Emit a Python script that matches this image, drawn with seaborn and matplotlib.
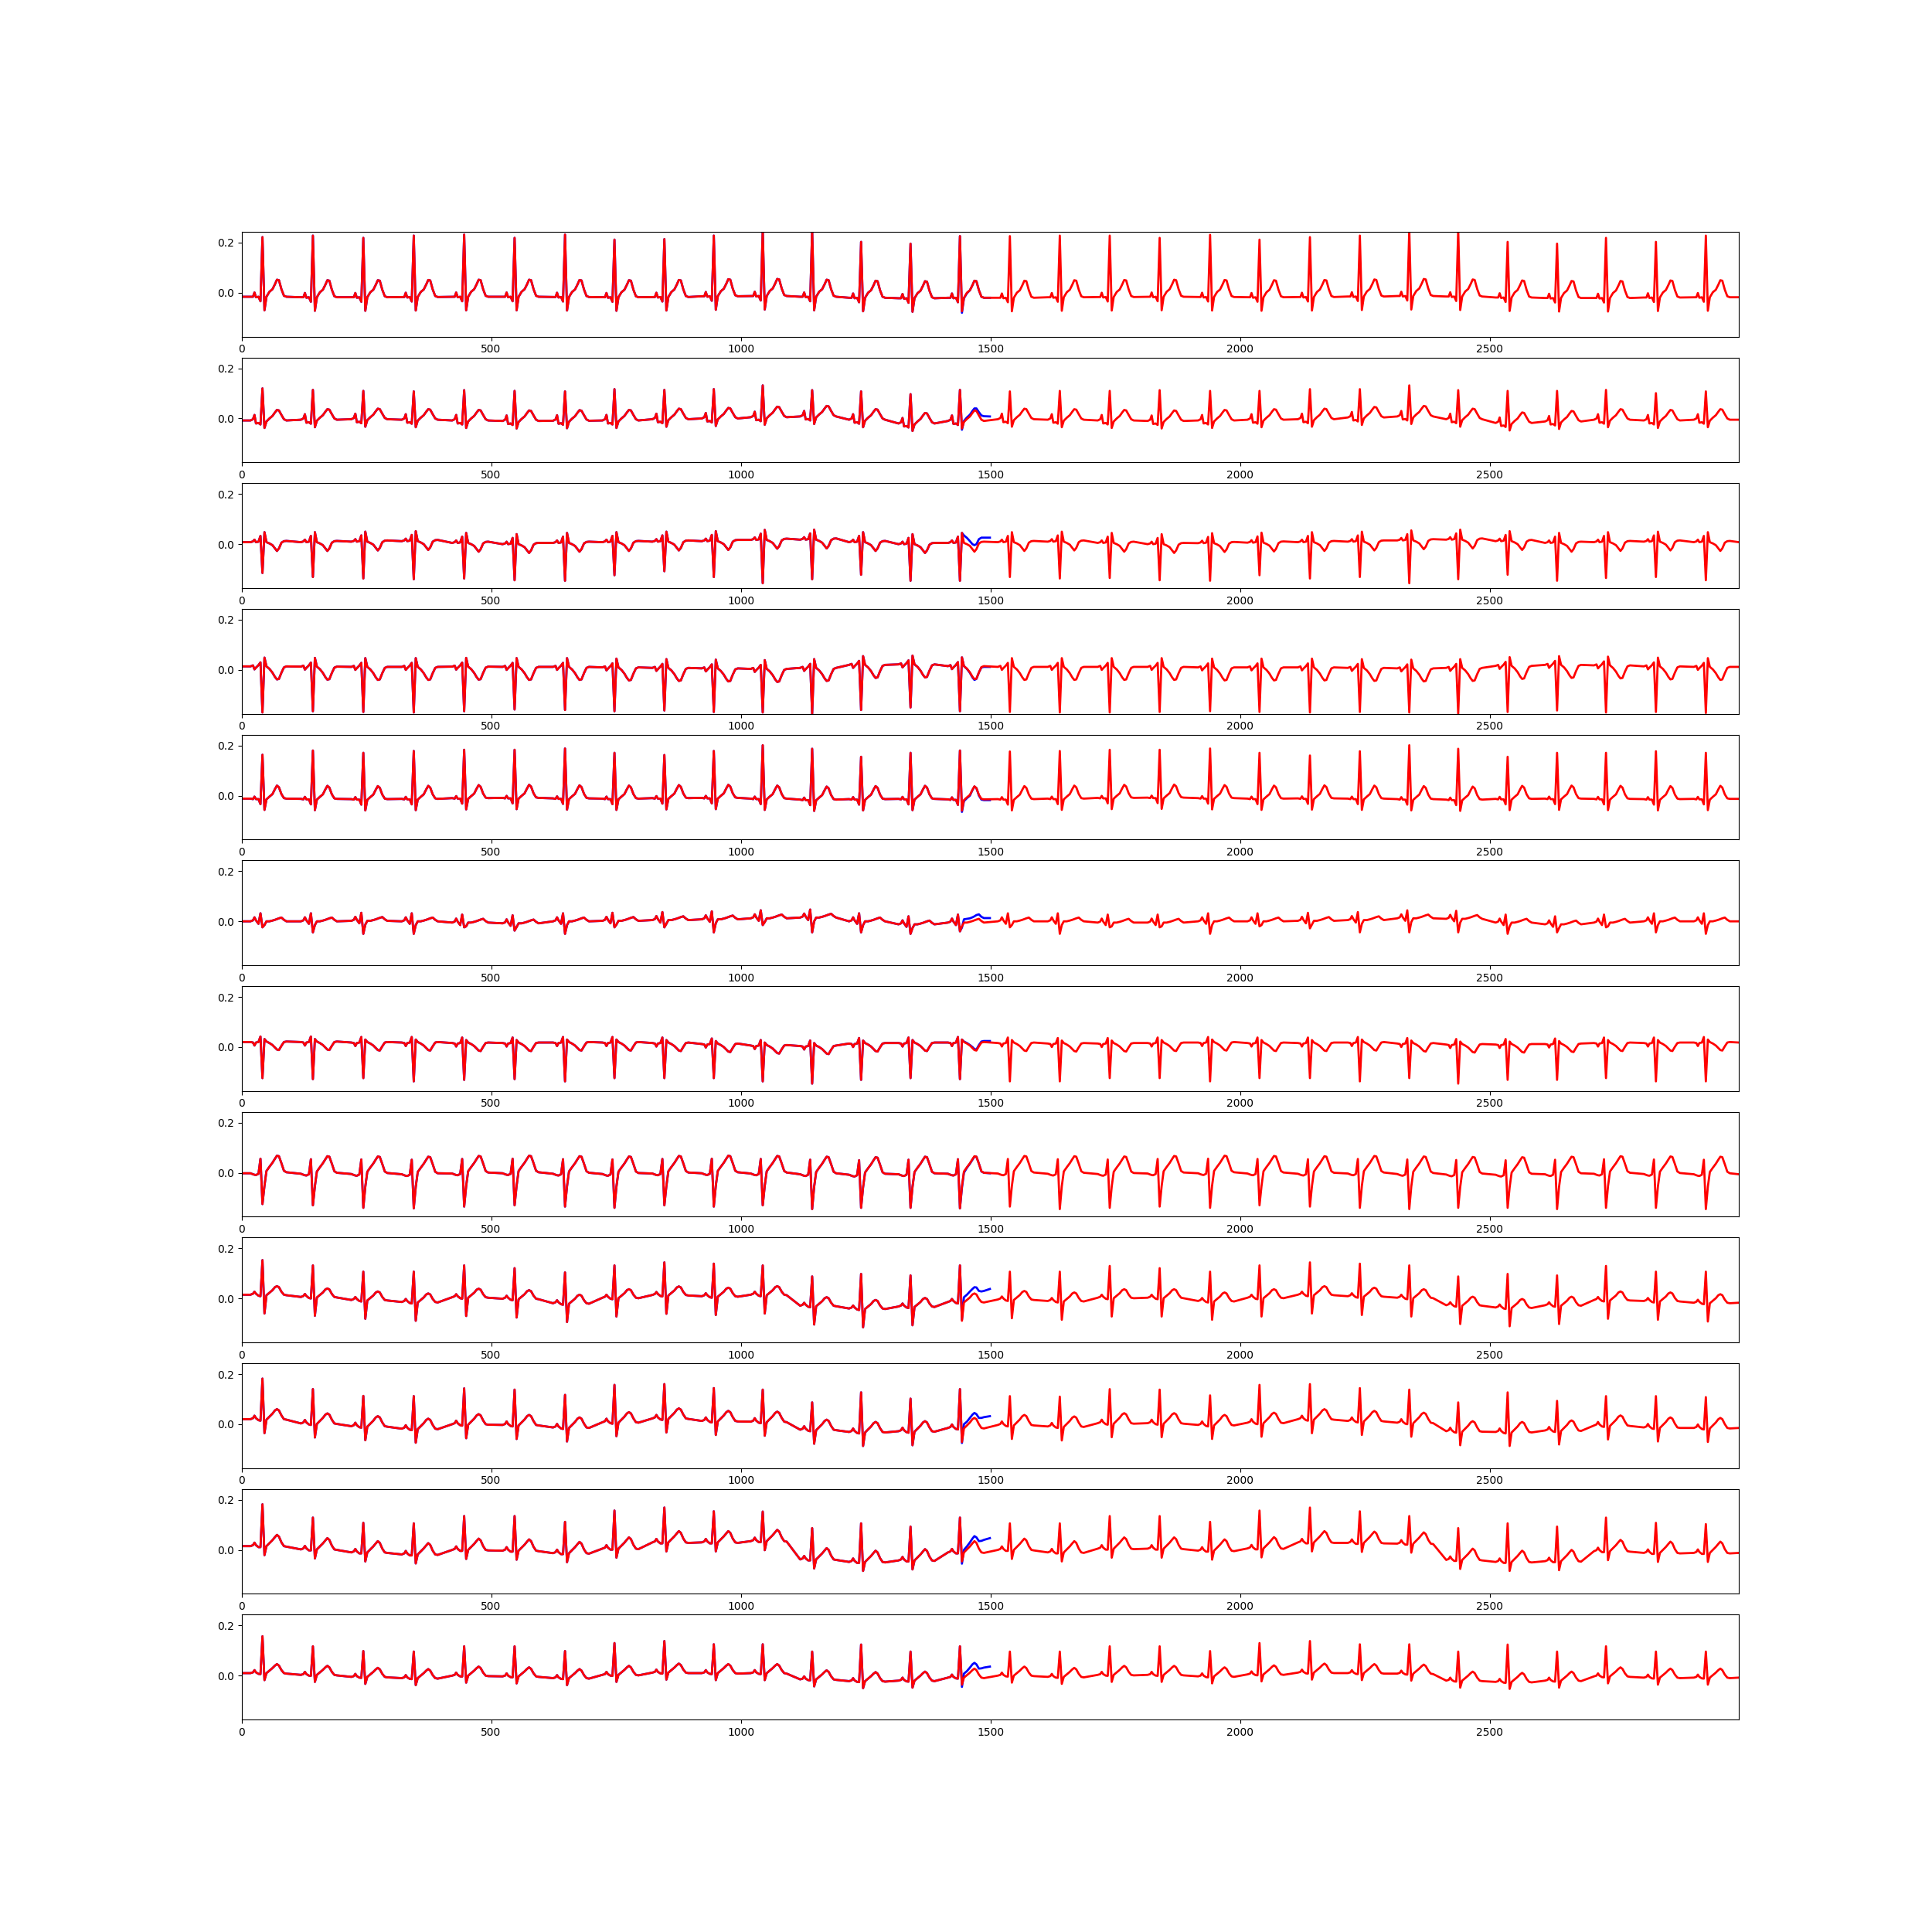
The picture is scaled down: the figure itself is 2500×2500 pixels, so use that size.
import numpy as np
import matplotlib
matplotlib.use("Agg")
import matplotlib.pyplot as plt
import seaborn as sns

# R-peak positions (samples), same for all 12 leads
beat_pos = [42, 143, 244, 345, 446, 547, 648, 747, 847, 946,
            1044, 1143, 1241, 1340, 1439, 1539, 1639, 1739, 1839, 1940,
            2039, 2140, 2240, 2339, 2437, 2536, 2635, 2733, 2833, 2933]

# beat template offsets (samples from the R peak); offset 0 = main QRS deflection
knot_d = [-24, -19, -16, -13, -8, -4, 0, 4, 8, 14, 20, 25, 29, 33, 38, 43, 48]

# original signal stops at 1500; its last beat differs from the red trace
tail_x = [1443, 1447, 1453, 1459, 1464, 1468, 1472, 1477, 1482, 1487, 1499]

# lead 1
shape_1 = [0, 0, 0.017, -0.002, 0, -0.018, 0, -0.054, 0.0, 0.02, 0.03, 0.05, 0.068, 0.066, 0.03, 0.004, 0]
peak_1 = [0.222, 0.228, 0.219, 0.228, 0.232, 0.219, 0.232, 0.212, 0.214, 0.228,
          0.25, 0.25, 0.203, 0.196, 0.226, 0.226, 0.228, 0.228, 0.219, 0.231,
          0.212, 0.222, 0.228, 0.25, 0.25, 0.203, 0.196, 0.219, 0.203, 0.228]
base_1 = [-0.016, -0.018, -0.018, -0.017, -0.016, -0.016, -0.017, -0.018, -0.017, -0.014,
          -0.013, -0.016, -0.02, -0.022, -0.02, -0.02, -0.018, -0.017, -0.016, -0.017,
          -0.018, -0.017, -0.015, -0.013, -0.015, -0.019, -0.021, -0.021, -0.019, -0.018]
tail_1 = [-0.08, -0.022, -0.002, 0.01, 0.03, 0.048, 0.046, 0.01, -0.016, -0.02, -0.02]

# lead 2
shape_2 = [0, 0.005, 0.022, -0.012, -0.01, -0.016, 0, -0.03, -0.004, 0.008, 0.018, 0.032, 0.042, 0.04, 0.022, 0.005, 0]
peak_2 = [0.12, 0.114, 0.11, 0.108, 0.113, 0.11, 0.108, 0.117, 0.114, 0.117,
          0.132, 0.113, 0.108, 0.097, 0.114, 0.108, 0.11, 0.11, 0.113, 0.11,
          0.11, 0.117, 0.117, 0.132, 0.113, 0.11, 0.11, 0.114, 0.101, 0.108]
base_2 = [-0.008, -0.005, -0.003, -0.005, -0.008, -0.01, -0.009, -0.008, -0.003, 0.0,
          0.005, 0.008, -0.005, -0.02, -0.01, -0.003, -0.005, -0.008, -0.01, -0.008,
          -0.005, -0.003, 0.004, 0.008, -0.003, -0.018, -0.012, -0.005, -0.008, -0.005]
tail_2 = [-0.045, -0.01, 0.004, 0.015, 0.03, 0.04, 0.04, 0.025, 0.012, 0.009, 0.008]

# lead 3
shape_3 = [0, 0.003, 0.01, 0.0, 0.002, 0.025, 0, 0.04, 0.0, -0.005, -0.012, -0.025, -0.035, -0.025, -0.002, 0.004, 0.005]
peak_3 = [-0.115, -0.131, -0.137, -0.14, -0.137, -0.144, -0.146, -0.124, -0.108, -0.131,
          -0.156, -0.14, -0.122, -0.146, -0.146, -0.131, -0.137, -0.135, -0.144, -0.146,
          -0.124, -0.137, -0.131, -0.156, -0.14, -0.122, -0.146, -0.135, -0.131, -0.144]
base_3 = [0.008, 0.008, 0.01, 0.012, 0.005, 0.0, 0.005, 0.008, 0.01, 0.012,
          0.017, 0.018, 0.008, 0.0, 0.005, 0.008, 0.01, 0.005, 0.0, 0.004,
          0.006, 0.008, 0.01, 0.015, 0.018, 0.012, 0.005, 0.008, 0.01, 0.008]
tail_3 = [0.045, 0.035, 0.025, 0.012, 0.0, -0.004, 0.0, 0.02, 0.026, 0.026, 0.026]

# lead 4
shape_4 = [0, 0.004, -0.012, -0.005, 0.005, 0.016, 0, 0.035, 0.0, -0.01, -0.025, -0.042, -0.052, -0.05, -0.025, -0.004, 0]
peak_4 = [-0.17, -0.165, -0.168, -0.17, -0.165, -0.158, -0.16, -0.165, -0.162, -0.168,
          -0.17, -0.175, -0.16, -0.15, -0.165, -0.168, -0.17, -0.17, -0.168, -0.165,
          -0.168, -0.17, -0.168, -0.17, -0.175, -0.168, -0.162, -0.17, -0.168, -0.172]
base_4 = [0.014, 0.013, 0.012, 0.012, 0.013, 0.012, 0.012, 0.01, 0.008, 0.006,
          0.004, 0.008, 0.02, 0.022, 0.015, 0.012, 0.012, 0.012, 0.012, 0.01,
          0.01, 0.01, 0.008, 0.006, 0.008, 0.016, 0.02, 0.018, 0.014, 0.012]
tail_4 = [0.05, 0.015, 0.004, -0.012, -0.03, -0.04, -0.036, -0.01, 0.01, 0.012, 0.012]

# lead 5
shape_5 = [0, -0.002, 0.008, -0.002, -0.002, -0.022, 0, -0.045, -0.003, 0.008, 0.018, 0.038, 0.052, 0.045, 0.018, 0.002, 0]
peak_5 = [0.163, 0.18, 0.171, 0.178, 0.183, 0.183, 0.188, 0.171, 0.162, 0.178,
          0.201, 0.187, 0.155, 0.171, 0.18, 0.176, 0.178, 0.183, 0.183, 0.188,
          0.171, 0.16, 0.177, 0.201, 0.187, 0.155, 0.171, 0.171, 0.177, 0.171]
base_5 = [-0.012, -0.013, -0.014, -0.013, -0.01, -0.009, -0.011, -0.012, -0.01, -0.009,
          -0.012, -0.016, -0.014, -0.013, -0.015, -0.014, -0.012, -0.009, -0.008, -0.01,
          -0.012, -0.011, -0.012, -0.014, -0.016, -0.013, -0.012, -0.013, -0.014, -0.013]
tail_5 = [-0.065, -0.022, -0.01, 0.0, 0.022, 0.036, 0.03, 0.0, -0.016, -0.018, -0.018]

# lead 6
shape_6 = [0, 0.004, 0.016, 0.004, -0.01, 0.032, 0, -0.015, 0.0, 0.0, 0.003, 0.006, 0.009, 0.012, 0.015, 0.006, 0]
peak_6 = [-0.024, -0.044, -0.05, -0.05, -0.024, -0.037, -0.05, -0.024, -0.024, -0.044,
          -0.015, -0.044, -0.044, -0.05, -0.04, -0.024, -0.05, -0.024, -0.024, -0.05,
          -0.02, -0.028, -0.044, -0.044, -0.044, -0.05, -0.044, -0.024, -0.044, -0.05]
base_6 = [0.0, 0.0, 0.002, 0.0, -0.005, -0.008, 0.0, 0.002, 0.005, 0.008,
          0.012, 0.015, 0.0, -0.012, -0.005, 0.0, 0.0, -0.005, -0.005, 0.0,
          0.0, 0.002, 0.005, 0.012, 0.01, -0.005, -0.012, -0.005, 0.0, 0.0]
tail_6 = [-0.025, 0.008, 0.01, 0.012, 0.016, 0.02, 0.025, 0.028, 0.018, 0.013, 0.013]

# lead 7
shape_7 = [0, -0.002, -0.014, -0.002, 0.0, 0.022, 0, 0.012, 0.002, -0.004, -0.012, -0.022, -0.03, -0.032, -0.015, 0.0, 0.002]
peak_7 = [-0.124, -0.128, -0.124, -0.137, -0.131, -0.128, -0.137, -0.124, -0.124, -0.124,
          -0.137, -0.146, -0.131, -0.124, -0.128, -0.137, -0.137, -0.124, -0.124, -0.137,
          -0.124, -0.124, -0.137, -0.124, -0.146, -0.131, -0.131, -0.124, -0.137, -0.137]
base_7 = [0.02, 0.02, 0.018, 0.018, 0.016, 0.016, 0.018, 0.018, 0.016, 0.012,
          0.006, 0.004, 0.014, 0.016, 0.018, 0.016, 0.014, 0.014, 0.016, 0.018,
          0.016, 0.016, 0.018, 0.014, 0.01, 0.01, 0.012, 0.016, 0.016, 0.018]
tail_7 = [0.03, 0.022, 0.016, 0.008, 0.0, -0.008, -0.01, 0.008, 0.022, 0.024, 0.024]

# lead 8
shape_8 = [0, -0.004, -0.006, -0.007, -0.002, 0.058, 0, -0.05, 0.009, 0.026, 0.042, 0.058, 0.07, 0.068, 0.04, 0.01, 0.004]
peak_8 = [-0.125, -0.13, -0.14, -0.142, -0.135, -0.13, -0.135, -0.14, -0.13, -0.135,
          -0.13, -0.145, -0.14, -0.14, -0.142, -0.135, -0.145, -0.14, -0.135, -0.14,
          -0.13, -0.135, -0.14, -0.145, -0.14, -0.14, -0.145, -0.14, -0.14, -0.145]
base_8 = [-0.002, -0.004, -0.005, -0.006, -0.003, -0.002, -0.004, -0.005, -0.003, -0.002,
          -0.003, -0.006, -0.008, -0.006, -0.004, -0.003, -0.004, -0.005, -0.003, -0.002,
          -0.003, -0.004, -0.003, -0.005, -0.007, -0.008, -0.006, -0.004, -0.005, -0.006]
tail_8 = [-0.06, 0.0, 0.02, 0.036, 0.052, 0.064, 0.064, 0.036, 0.005, 0.0, -0.002]

# lead 9
shape_9 = [0, 0.004, 0.012, 0.004, -0.004, -0.006, 0, -0.075, -0.002, 0.008, 0.018, 0.03, 0.034, 0.03, 0.012, 0.0, -0.002]
peak_9 = [0.153, 0.132, 0.107, 0.107, 0.132, 0.121, 0.104, 0.132, 0.144, 0.139,
          0.132, 0.088, 0.098, 0.092, 0.132, 0.107, 0.107, 0.13, 0.121, 0.107,
          0.132, 0.144, 0.139, 0.132, 0.088, 0.098, 0.092, 0.13, 0.107, 0.107]
base_9 = [0.015, 0.006, -0.006, -0.014, 0.005, -0.001, -0.019, 0.003, 0.014, 0.009,
          0.015, -0.029, -0.04, -0.032, -0.014, -0.004, -0.01, 0.003, 0.003, -0.01,
          0.003, 0.015, 0.009, 0.003, -0.027, -0.036, -0.027, -0.006, -0.01, -0.017]
tail_9 = [-0.085, 0.005, 0.015, 0.028, 0.038, 0.045, 0.044, 0.03, 0.028, 0.03, 0.038]

# lead 10
shape_10 = [0, 0.004, 0.014, 0.004, -0.004, -0.006, 0, -0.056, -0.002, 0.01, 0.022, 0.035, 0.04, 0.035, 0.015, 0.0, -0.002]
peak_10 = [0.182, 0.14, 0.113, 0.112, 0.143, 0.138, 0.117, 0.157, 0.16, 0.144,
           0.138, 0.087, 0.127, 0.102, 0.14, 0.112, 0.11, 0.14, 0.138, 0.115,
           0.157, 0.16, 0.144, 0.138, 0.087, 0.127, 0.093, 0.112, 0.112, 0.108]
base_10 = [0.02, 0.003, -0.008, -0.018, 0.0, -0.003, -0.013, 0.008, 0.023, 0.013,
           0.01, -0.022, -0.031, -0.028, -0.015, -0.003, -0.009, 0.004, 0.004, -0.003,
           0.006, 0.02, 0.013, 0.006, -0.028, -0.031, -0.025, -0.005, -0.013, -0.015]
tail_10 = [-0.075, 0.0, 0.01, 0.025, 0.038, 0.045, 0.04, 0.025, 0.025, 0.028, 0.032]

# lead 11
shape_11 = [0, 0.004, 0.014, 0.004, -0.004, -0.004, 0, -0.036, 0.0, 0.012, 0.024, 0.036, 0.045, 0.038, 0.015, 0.0, -0.002]
peak_11 = [0.182, 0.129, 0.108, 0.106, 0.135, 0.135, 0.112, 0.157, 0.169, 0.154,
           0.153, 0.087, 0.106, 0.093, 0.129, 0.106, 0.106, 0.135, 0.135, 0.112,
           0.157, 0.169, 0.154, 0.135, 0.087, 0.106, 0.093, 0.129, 0.108, 0.103]
base_11 = [0.015, 0.002, -0.01, -0.018, 0.0, -0.003, -0.013, 0.005, 0.03, 0.03,
           0.035, -0.038, -0.048, -0.042, -0.01, 0.0, -0.01, 0.005, 0.005, -0.003,
           0.006, 0.03, 0.028, 0.025, -0.04, -0.048, -0.045, -0.005, -0.012, -0.012]
tail_11 = [-0.055, 0.0, 0.014, 0.03, 0.045, 0.055, 0.05, 0.035, 0.036, 0.04, 0.047]

# lead 12
shape_12 = [0, 0.003, 0.012, 0.003, -0.003, -0.004, 0, -0.028, 0.0, 0.01, 0.02, 0.03, 0.036, 0.03, 0.012, 0.0, -0.002]
peak_12 = [0.157, 0.117, 0.098, 0.096, 0.117, 0.117, 0.098, 0.13, 0.138, 0.125,
           0.125, 0.096, 0.124, 0.096, 0.117, 0.096, 0.096, 0.117, 0.117, 0.098,
           0.13, 0.138, 0.125, 0.125, 0.096, 0.124, 0.096, 0.117, 0.096, 0.096]
base_12 = [0.01, 0.003, -0.005, -0.01, 0.0, -0.003, -0.01, 0.003, 0.012, 0.01,
           0.01, -0.015, -0.022, -0.02, -0.008, 0.0, -0.005, 0.003, 0.003, -0.003,
           0.005, 0.012, 0.01, 0.008, -0.02, -0.025, -0.02, -0.003, -0.008, -0.008]
tail_12 = [-0.045, 0.008, 0.018, 0.032, 0.045, 0.051, 0.045, 0.028, 0.029, 0.032, 0.036]

leads = [
    (shape_1, peak_1, base_1, tail_1),
    (shape_2, peak_2, base_2, tail_2),
    (shape_3, peak_3, base_3, tail_3),
    (shape_4, peak_4, base_4, tail_4),
    (shape_5, peak_5, base_5, tail_5),
    (shape_6, peak_6, base_6, tail_6),
    (shape_7, peak_7, base_7, tail_7),
    (shape_8, peak_8, base_8, tail_8),
    (shape_9, peak_9, base_9, tail_9),
    (shape_10, peak_10, base_10, tail_10),
    (shape_11, peak_11, base_11, tail_11),
    (shape_12, peak_12, base_12, tail_12),
]


def build_trace(shape, peak, base):
    xs, ys = [0], [base[0]]
    for r, p, b in zip(beat_pos, peak, base):
        for d, v in zip(knot_d, shape):
            xs.append(r + d)
            ys.append(p if d == 0 else b + v)
    xs.append(2999)
    ys.append(base[-1])
    return np.array(xs), np.array(ys)


fig, axes = plt.subplots(12, 1, figsize=(25, 25))

for ax, (shape, peak, base, tail) in zip(axes, leads):
    rx, ry = build_trace(shape, peak, base)
    keep = rx < tail_x[0]
    bx = np.concatenate([rx[keep], tail_x])
    by = np.concatenate([ry[keep], tail])
    # blue: original segment, red: full trace drawn on top
    sns.lineplot(x=bx, y=by, ax=ax, color="blue", linewidth=2, estimator=None, sort=False)
    sns.lineplot(x=rx, y=ry, ax=ax, color="red", linewidth=2, estimator=None, sort=False)
    ax.set_xlim(0, 2999)
    ax.set_ylim(-0.175, 0.243)

plt.savefig("out.png", dpi=100)
